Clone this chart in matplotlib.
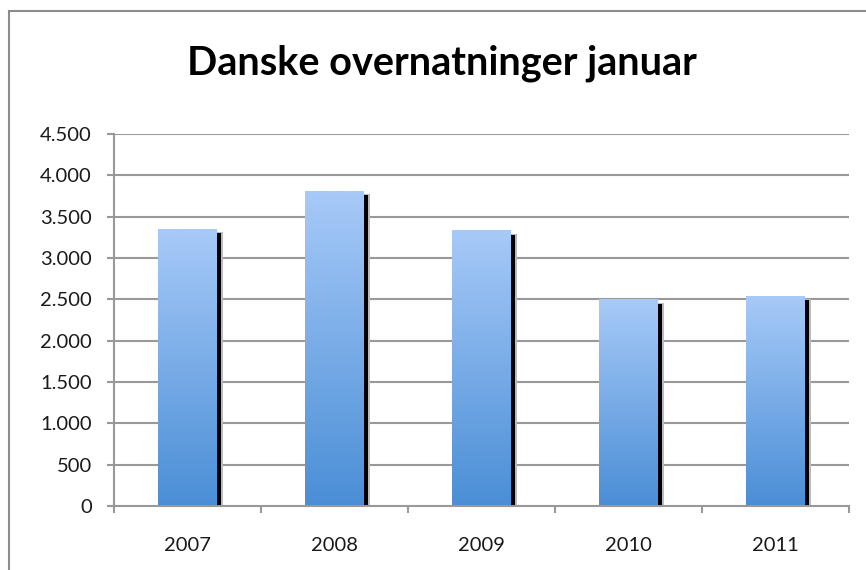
import matplotlib
matplotlib.use("Agg")
import matplotlib.pyplot as plt
import matplotlib.transforms as mtransforms
from matplotlib.colors import LinearSegmentedColormap
from matplotlib.lines import Line2D
import numpy as np

years = ["2007", "2008", "2009", "2010", "2011"]
values = [3350, 3810, 3330, 2495, 2540]
yticks = [0, 500, 1000, 1500, 2000, 2500, 3000, 3500, 4000, 4500]
ytick_labels = ["0", "500", "1.000", "1.500", "2.000", "2.500", "3.000", "3.500", "4.000", "4.500"]
title = "Danske overnatninger januar"

plt.rcParams['font.family'] = ['Lato', 'DejaVu Sans']

fig = plt.figure(figsize=(8.66, 5.70), dpi=100)
ax = fig.add_axes([114/866, 1-506/570, (849-114)/866, (506-134)/570])

x = np.arange(len(years))
width = 0.40

# soft shadow halo + black shadow
halo_tr = ax.transData + mtransforms.ScaledTranslation(6/100, -3/100, fig.dpi_scale_trans)
ax.bar(x, values, width=width, color="#bbbbbb", transform=halo_tr, zorder=2)
shadow_tr = ax.transData + mtransforms.ScaledTranslation(4/100, -4/100, fig.dpi_scale_trans)
ax.bar(x, values, width=width, color="black", transform=shadow_tr, zorder=2.5)

cmap = LinearSegmentedColormap.from_list("g", ["#4a8ed6", "#a7caf8"])
grad = np.linspace(0, 1, 256).reshape(-1, 1)
bars = ax.bar(x, values, width=width, color="#7fb0ea", zorder=3)
for b in bars:
    x0, y0 = b.get_x(), b.get_y()
    w, h = b.get_width(), b.get_height()
    ax.imshow(grad, extent=[x0, x0 + w, y0, y0 + h], origin="lower",
              cmap=cmap, aspect="auto", zorder=3.5, interpolation="bilinear")

ax.set_xlim(-0.5, len(years) - 0.5)
ax.set_ylim(0, 4500)
ax.set_yticks(yticks)
ax.set_yticklabels(ytick_labels)
ax.set_xticks(x)
ax.set_xticklabels(years)
ax.set_xticks(np.arange(-0.5, len(years)), minor=True)

for y in yticks[1:]:
    ax.axhline(y, color="#999999", lw=1.5, zorder=1)

for s in ["top", "right"]:
    ax.spines[s].set_visible(False)
for s in ["left", "bottom"]:
    ax.spines[s].set_color("#999999")
    ax.spines[s].set_linewidth(1.5)
    ax.spines[s].set_zorder(4)

ax.tick_params(axis="y", length=5, width=1.5, color="#999999", pad=11, labelsize=14.5, labelcolor="#1a1a1a")
ax.tick_params(axis="x", which="major", length=0, pad=22, labelsize=14.5, labelcolor="#1a1a1a")
ax.tick_params(axis="x", which="minor", length=5, width=1.5, color="#999999")

fig.text(442/866, 1-63/570, title, ha="center", va="center", fontsize=28.5, fontweight="bold", color="black")

# chart border
fig.add_artist(Line2D([9/866, 9/866], [0, 1-11/570], transform=fig.transFigure, color="#8c8c8c", lw=1.5))
fig.add_artist(Line2D([9/866, 1], [1-11/570, 1-11/570], transform=fig.transFigure, color="#8c8c8c", lw=1.5))

fig.savefig("out.png", dpi=100)
